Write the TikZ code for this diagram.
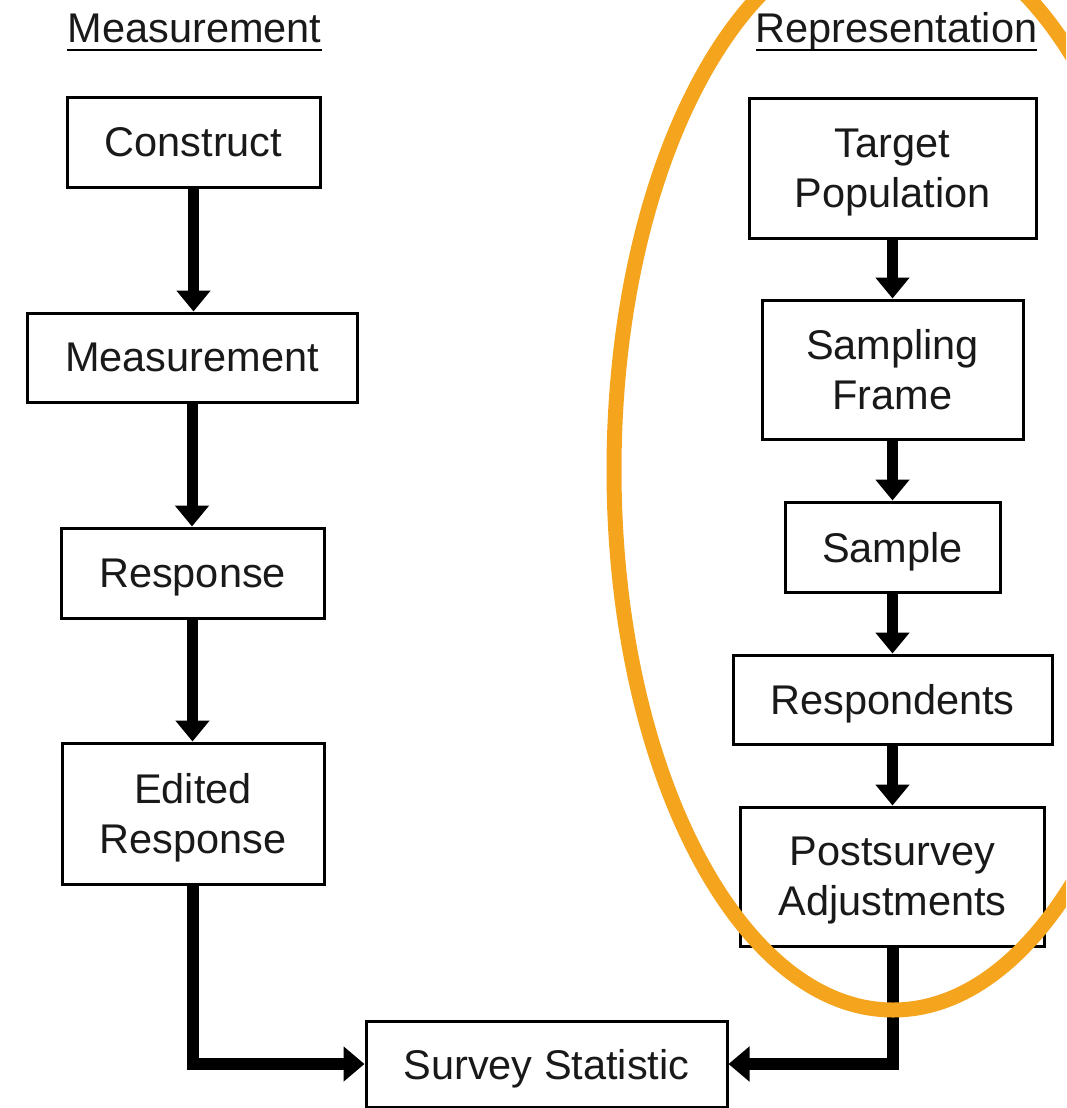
\documentclass[tikz,border=0pt]{standalone}
\usepackage{fontspec}
\setmainfont{Liberation Sans}
\usetikzlibrary{arrows.meta}
\definecolor{ringorange}{RGB}{245,164,30}
% last line of a label: ignore descenders so the letters sit centred in the box
\newcommand\nodepth[1]{\raisebox{0pt}[\height][0pt]{#1}}
\begin{document}
\begin{tikzpicture}[x=1pt,y=-1pt,
  every node/.style={font=\fontsize{41.5}{50}\selectfont, text=black!90},
  box/.style={draw, line width=3pt, inner sep=0pt, align=center},
  hdr/.style={inner sep=0pt, anchor=base},
  flow/.style={line width=11pt, -{Triangle[width=33pt,length=21pt]}},
  elbow/.style={line width=12pt, -{Triangle[width=34pt,length=21pt]}}]
\useasboundingbox (0,0) rectangle (1066,1108);
\clip (0,0) rectangle (1066,1108);

% column headings
\node[hdr] (hM) at (194.5,43) {Measurement};
\node[hdr] (hR) at (896.5,43) {Representation};
\draw[line width=2.5pt] ([yshift=-7pt]hM.base west) -- ([yshift=-7pt]hM.base east);
\draw[line width=2.5pt] ([yshift=-7pt]hR.base west) -- ([yshift=-7pt]hR.base east);

% measurement side
\node[box, minimum width=253pt, minimum height=90pt]  (con)  at (193.5,142)   {\nodepth{Construct}};
\node[box, minimum width=330pt, minimum height=89pt]  (meas) at (192,357.5)   {\nodepth{Measurement}};
\node[box, minimum width=263pt, minimum height=90pt]  (resp) at (192.5,573)   {\nodepth{Response}};
\node[box, minimum width=262pt, minimum height=141pt] (edit) at (193,813.5)   {Edited\\\nodepth{Response}};

% representation side
\node[box, minimum width=287pt, minimum height=140pt] (tgt)  at (892.5,168)   {Target\\\nodepth{Population}};
\node[box, minimum width=261pt, minimum height=139pt] (frm)  at (892.5,369.5) {Sampling\\\nodepth{Frame}};
\node[box, minimum width=215pt, minimum height=90pt]  (smp)  at (892.5,547)   {\nodepth{Sample}};
\node[box, minimum width=319pt, minimum height=89pt]  (rsp)  at (892.5,699.5) {\nodepth{Respondents}};
\node[box, minimum width=304pt, minimum height=139pt] (adj)  at (892.5,876.5) {Postsurvey\\\nodepth{Adjustments}};

% joint result
\node[box, minimum width=361pt, minimum height=86pt]  (stat) at (546.5,1064)  {\nodepth{Survey Statistic}};

% vertical flow arrows
\draw[flow] (con.south)  -- (con.south |- meas.north);
\draw[flow] (meas.south) -- (meas.south |- resp.north);
\draw[flow] (resp.south) -- (resp.south |- edit.north);
\draw[flow] (tgt.south)  -- (tgt.south |- frm.north);
\draw[flow] (frm.south)  -- (frm.south |- smp.north);
\draw[flow] (smp.south)  -- (smp.south |- rsp.north);
\draw[flow] (rsp.south)  -- (rsp.south |- adj.north);

% both strands meet at the statistic
\draw[elbow] (edit.south) |- (stat.west);
\draw[elbow] (adj.south)  |- (stat.east);

% highlight ring round the representation strand
\draw[ringorange, line width=15pt] (893,470) ellipse [x radius=279, y radius=540];
\end{tikzpicture}
\end{document}
